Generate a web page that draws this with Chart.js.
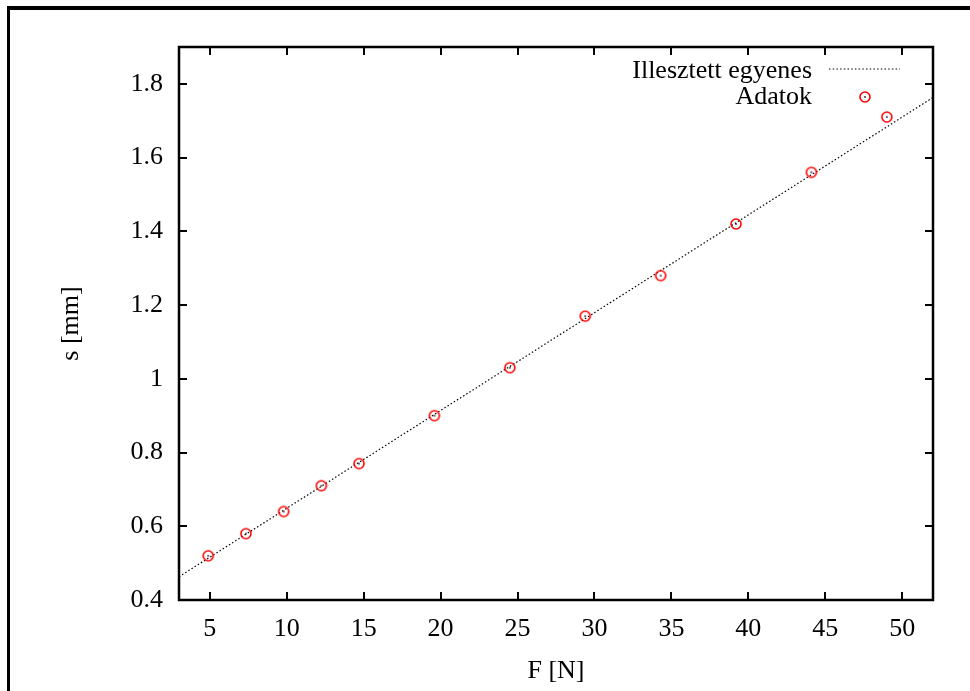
<!DOCTYPE html>
<html>
<head>
<meta charset="utf-8">
<script src="https://cdn.jsdelivr.net/npm/chart.js@4.4.0/dist/chart.umd.min.js"></script>
<style>
body { margin: 0; background: #fff; }
</style>
</head>
<body>
<canvas id="myChart" width="970" height="691"></canvas>
<script>
// measured points: force F [N] and extension s [mm]
const forceN = [4.9, 7.35, 9.8, 12.25, 14.7, 19.6, 24.5, 29.4, 34.3, 39.2, 44.1, 49.0];
const stretchMm = [0.52, 0.58, 0.64, 0.71, 0.77, 0.90, 1.03, 1.17, 1.28, 1.42, 1.56, 1.71];

// fitted line, read at both ends of the x range
const fitX = [3, 52];
const fitY = [0.463, 1.763];

const xTicks = [5, 10, 15, 20, 25, 30, 35, 40, 45, 50];
const yTicks = [0.4, 0.6, 0.8, 1.0, 1.2, 1.4, 1.6, 1.8];

const serif = '"Liberation Serif", "Times New Roman", serif';
Chart.defaults.font.family = serif;
Chart.defaults.font.size = 26;
Chart.defaults.color = '#000';

// gnuplot style circle with a dot in the middle
function makeMarker() {
    const c = document.createElement('canvas');
    c.width = 14; c.height = 14;
    const g = c.getContext('2d');
    g.strokeStyle = '#ff0000';
    g.lineWidth = 1.6;
    g.beginPath();
    g.arc(7, 7, 5, 0, Math.PI * 2);
    g.stroke();
    g.fillStyle = '#000';
    g.fillRect(6.25, 6.25, 1.5, 1.5);
    return c;
}
const marker = makeMarker();

const gnuFrame = {
    id: 'gnuFrame',
    beforeDraw(chart) {
        const ctx = chart.ctx;
        ctx.save();
        ctx.fillStyle = '#fff';
        ctx.fillRect(0, 0, chart.width, chart.height);
        ctx.fillStyle = '#000';
        ctx.fillRect(7, 6, chart.width - 7, 4);
        ctx.fillRect(7, 6, 3, chart.height - 6);
        ctx.restore();
    },
    afterDraw(chart) {
        const ctx = chart.ctx;
        const a = chart.chartArea;
        const xs = chart.scales.x, ys = chart.scales.y;
        ctx.save();
        ctx.strokeStyle = '#000';
        ctx.lineWidth = 2;
        ctx.beginPath();
        xTicks.forEach(v => {
            const px = Math.round(xs.getPixelForValue(v));
            ctx.moveTo(px, a.bottom); ctx.lineTo(px, a.bottom - 8);
            ctx.moveTo(px, a.top); ctx.lineTo(px, a.top + 8);
        });
        yTicks.forEach(v => {
            const py = Math.round(ys.getPixelForValue(v));
            ctx.moveTo(a.left, py); ctx.lineTo(a.left + 8, py);
            ctx.moveTo(a.right, py); ctx.lineTo(a.right - 8, py);
        });
        ctx.stroke();
        ctx.lineWidth = 2.5;
        ctx.strokeRect(a.left, a.top, a.right - a.left, a.bottom - a.top);

        // key, top right inside the plot
        const tx = a.right - 121;
        ctx.font = '26px ' + serif;
        ctx.fillStyle = '#000';
        ctx.textAlign = 'right';
        ctx.textBaseline = 'middle';
        ctx.fillText('Illesztett egyenes', tx, a.top + 24);
        ctx.fillText('Adatok', tx, a.top + 50);
        ctx.lineWidth = 1.2;
        ctx.setLineDash([1.5, 2.2]);
        ctx.beginPath();
        ctx.moveTo(a.right - 104, a.top + 22);
        ctx.lineTo(a.right - 33, a.top + 22);
        ctx.stroke();
        ctx.setLineDash([]);
        ctx.drawImage(marker, a.right - 68 - 7, a.top + 50 - 7);
        ctx.restore();
    }
};

const ctx = document.getElementById('myChart').getContext('2d');
const myChart = new Chart(ctx, {
    type: 'scatter',
    data: {
        datasets: [{
            label: 'Illesztett egyenes',
            data: fitX.map((x, i) => ({x: x, y: fitY[i]})),
            showLine: true,
            borderColor: '#000',
            borderWidth: 1.2,
            borderDash: [1.5, 2.2],
            pointRadius: 0,
            order: 2
        }, {
            label: 'Adatok',
            data: forceN.map((x, i) => ({x: x, y: stretchMm[i]})),
            pointStyle: marker,
            pointRadius: 6,
            order: 1
        }]
    },
    options: {
        responsive: false,
        animation: false,
        layout: { padding: { top: 47, right: 37, left: 0, bottom: 0 } },
        plugins: { legend: { display: false }, tooltip: { enabled: false } },
        scales: {
            x: {
                type: 'linear',
                min: 3, max: 52,
                grid: { display: false, drawTicks: false },
                border: { display: false },
                afterBuildTicks: s => { s.ticks = xTicks.map(v => ({value: v})); },
                afterFit: s => { s.height = 91; },
                ticks: { padding: 14, maxRotation: 0, callback: v => String(v) },
                title: { display: true, text: 'F [N]', padding: { top: 0, bottom: 4 } }
            },
            y: {
                type: 'linear',
                min: 0.4, max: 1.9,
                grid: { display: false, drawTicks: false },
                border: { display: false },
                afterBuildTicks: s => { s.ticks = yTicks.map(v => ({value: v})); },
                afterFit: s => { s.width = 179; },
                ticks: { padding: 16, callback: v => String(+v.toFixed(1)) },
                title: { display: true, text: 's [mm]', padding: { top: 56, bottom: 0 } }
            }
        }
    },
    plugins: [gnuFrame]
});
</script>
</body>
</html>
